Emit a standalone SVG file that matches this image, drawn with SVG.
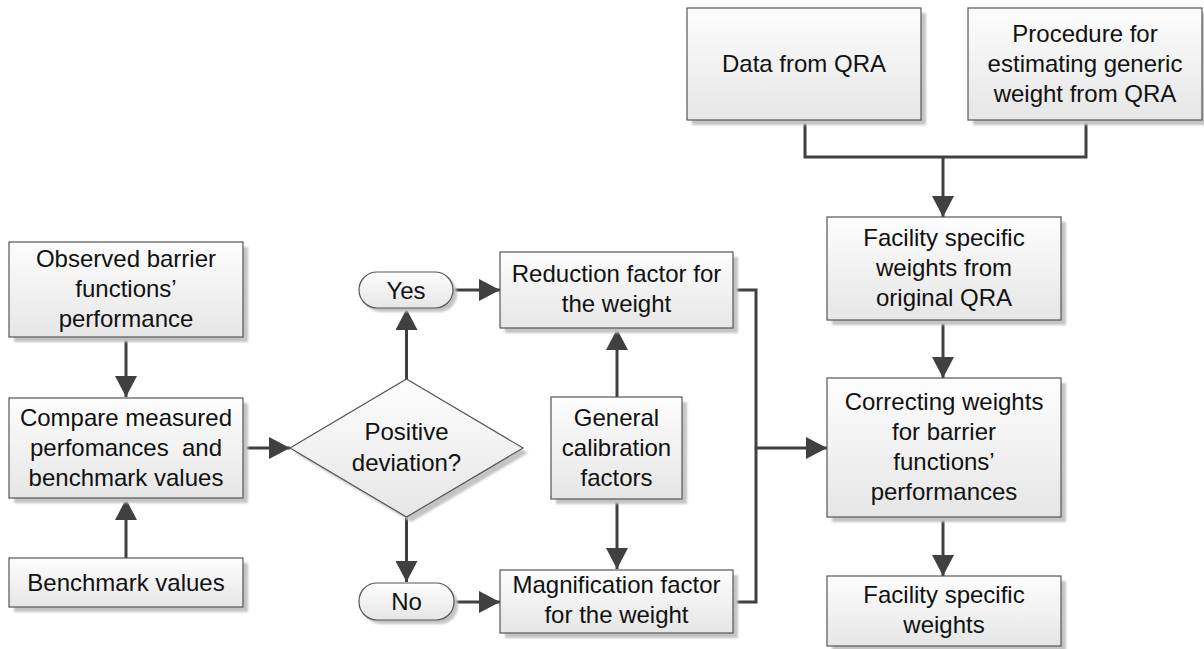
<svg xmlns="http://www.w3.org/2000/svg" width="1204" height="649" viewBox="0 0 1204 649">
  <defs>
    <linearGradient id="boxFill" x1="0" y1="0" x2="0" y2="1">
      <stop offset="0" stop-color="#fdfdfd"/>
      <stop offset="1" stop-color="#e6e6e6"/>
    </linearGradient>
    <filter id="soft" x="-10%" y="-10%" width="120%" height="120%">
      <feGaussianBlur stdDeviation="1.2"/>
    </filter>
    <marker id="arrow" markerUnits="userSpaceOnUse" markerWidth="22" markerHeight="22" refX="21" refY="11" orient="auto">
      <path d="M0,0 L21,11 L0,22 Z" fill="#404040"/>
    </marker>
  </defs>
  <style>
    .shadow { fill: #c4c4c4; filter: url(#soft); }
    .shape { fill: url(#boxFill); stroke: #555555; stroke-width: 1.2; }
    .label { font-family: "Liberation Sans", Arial, sans-serif; font-size: 24px; fill: #111111; text-anchor: middle; }
    .conn { fill: none; stroke: #404040; stroke-width: 3; }
    .arr { marker-end: url(#arrow); }
  </style>
  <rect width="1204" height="649" fill="#ffffff"/>

  <!-- connectors -->
  <g id="connectors">
    <path class="conn arr" d="M126,337 V397"/>
    <path class="conn arr" d="M126,558 V499"/>
    <path class="conn arr" d="M243,448 H290"/>
    <path class="conn arr" d="M406.5,379 V309"/>
    <path class="conn arr" d="M406.5,517 V582"/>
    <path class="conn arr" d="M453,290 H500"/>
    <path class="conn arr" d="M454,602 H500"/>
    <path class="conn arr" d="M617,397 V329"/>
    <path class="conn arr" d="M617,499 V569"/>
    <path class="conn" d="M733,290 H756 V602 H733"/>
    <path class="conn arr" d="M756,448 H827"/>
    <path class="conn" d="M805,120 V157 H1086 V120"/>
    <path class="conn arr" d="M943,157 V217"/>
    <path class="conn arr" d="M943,320 V378"/>
    <path class="conn arr" d="M943,517 V576"/>
  </g>

  <g id="observed">
    <rect class="shadow" x="14" y="247" width="234" height="95"/>
    <rect class="shape" x="9" y="242" width="234" height="95"/>
    <text class="label" x="126" y="267">Observed barrier</text>
    <text class="label" x="126" y="297">functions’</text>
    <text class="label" x="126" y="327">performance</text>
  </g>

  <g id="compare">
    <rect class="shadow" x="14" y="403" width="234" height="100"/>
    <rect class="shape" x="9" y="398" width="234" height="100"/>
    <text class="label" x="126" y="426">Compare measured</text>
    <text class="label" x="126" y="456" xml:space="preserve">perfomances  and</text>
    <text class="label" x="126" y="486">benchmark values</text>
  </g>

  <g id="benchmark">
    <rect class="shadow" x="14" y="563" width="234" height="49"/>
    <rect class="shape" x="9" y="558" width="234" height="49"/>
    <text class="label" x="126" y="591">Benchmark values</text>
  </g>

  <g id="decision">
    <polygon class="shadow" points="411.5,384 528,453 411.5,522 295,453"/>
    <polygon class="shape" points="406.5,379 523,448 406.5,517 290,448"/>
    <text class="label" x="406.5" y="440">Positive</text>
    <text class="label" x="406.5" y="471">deviation?</text>
  </g>

  <g id="yes">
    <rect class="shadow" x="363" y="276" width="94" height="36" rx="18"/>
    <rect class="shape" x="359" y="272" width="94" height="36" rx="18"/>
    <text class="label" x="406" y="299">Yes</text>
  </g>

  <g id="no">
    <rect class="shadow" x="363" y="587" width="95" height="37" rx="18"/>
    <rect class="shape" x="359" y="583" width="95" height="37" rx="18"/>
    <text class="label" x="406.5" y="610">No</text>
  </g>

  <g id="reduction">
    <rect class="shadow" x="505" y="257" width="233" height="76"/>
    <rect class="shape" x="500" y="252" width="233" height="76"/>
    <text class="label" x="616.5" y="282">Reduction factor for</text>
    <text class="label" x="616.5" y="312">the weight</text>
  </g>

  <g id="calibration">
    <rect class="shadow" x="556" y="402" width="131" height="102"/>
    <rect class="shape" x="551" y="397" width="131" height="102"/>
    <text class="label" x="616.5" y="426">General</text>
    <text class="label" x="616.5" y="456">calibration</text>
    <text class="label" x="616.5" y="486">factors</text>
  </g>

  <g id="magnification">
    <rect class="shadow" x="505" y="575" width="233" height="63"/>
    <rect class="shape" x="500" y="570" width="233" height="63"/>
    <text class="label" x="616.5" y="593">Magnification factor</text>
    <text class="label" x="616.5" y="623">for the weight</text>
  </g>

  <g id="qra-data">
    <rect class="shadow" x="692" y="13" width="234" height="112"/>
    <rect class="shape" x="687" y="8" width="234" height="112"/>
    <text class="label" x="804" y="72">Data from QRA</text>
  </g>

  <g id="procedure">
    <rect class="shadow" x="973" y="13" width="234" height="112"/>
    <rect class="shape" x="968" y="8" width="234" height="112"/>
    <text class="label" x="1085" y="42">Procedure for</text>
    <text class="label" x="1085" y="72">estimating generic</text>
    <text class="label" x="1085" y="102">weight from QRA</text>
  </g>

  <g id="original-weights">
    <rect class="shadow" x="832" y="222" width="234" height="103"/>
    <rect class="shape" x="827" y="217" width="234" height="103"/>
    <text class="label" x="944" y="246">Facility specific</text>
    <text class="label" x="944" y="276">weights from</text>
    <text class="label" x="944" y="306">original QRA</text>
  </g>

  <g id="correcting">
    <rect class="shadow" x="832" y="383" width="234" height="139"/>
    <rect class="shape" x="827" y="378" width="234" height="139"/>
    <text class="label" x="944" y="410">Correcting weights</text>
    <text class="label" x="944" y="440">for barrier</text>
    <text class="label" x="944" y="470">functions’</text>
    <text class="label" x="944" y="500">performances</text>
  </g>

  <g id="specific-weights">
    <rect class="shadow" x="832" y="581" width="234" height="70"/>
    <rect class="shape" x="827" y="576" width="234" height="70"/>
    <text class="label" x="944" y="603">Facility specific</text>
    <text class="label" x="944" y="633">weights</text>
  </g>
</svg>
